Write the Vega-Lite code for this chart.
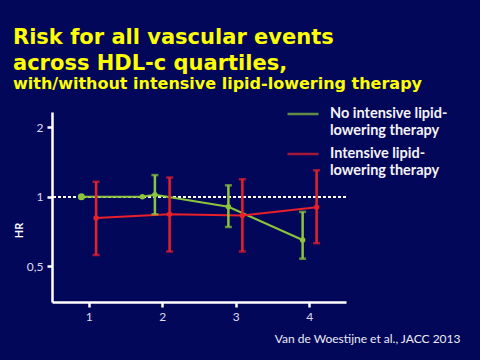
{
  "$schema": "https://vega.github.io/schema/vega-lite/v6.json",
  "autosize": "none",
  "width": 294,
  "height": 190,
  "padding": {"left": 52, "top": 112, "right": 134, "bottom": 58},
  "background": "#03075a",
  "title": {
    "text": ["Risk for all vascular events", "across HDL-c quartiles,"],
    "subtitle": "with/without intensive lipid-lowering therapy",
    "anchor": "start",
    "frame": "group",
    "dx": -39,
    "offset": 5,
    "font": "DejaVu Sans",
    "fontSize": 21,
    "fontWeight": "bold",
    "color": "#ffff00",
    "lineHeight": 26,
    "subtitleFont": "DejaVu Sans",
    "subtitleFontSize": 16,
    "subtitleFontWeight": "bold",
    "subtitleColor": "#ffff00",
    "subtitlePadding": 2
  },
  "config": {
    "view": {"stroke": null},
    "font": "Lato"
  },
  "data": {
    "values": [
      {"group": "No intensive lipid-|lowering therapy", "x": 0.9, "hr": 1.0, "ref": true},
      {"group": "No intensive lipid-|lowering therapy", "x": 1.73, "hr": 1.0},
      {"group": "No intensive lipid-|lowering therapy", "x": 1.9, "hr": 1.02, "lo": 0.84, "hi": 1.24},
      {"group": "No intensive lipid-|lowering therapy", "x": 2.9, "hr": 0.905, "lo": 0.74, "hi": 1.12},
      {"group": "No intensive lipid-|lowering therapy", "x": 3.91, "hr": 0.65, "lo": 0.54, "hi": 0.86},
      {"group": "Intensive lipid-|lowering therapy", "x": 1.1, "hr": 0.81, "lo": 0.56, "hi": 1.16},
      {"group": "Intensive lipid-|lowering therapy", "x": 2.1, "hr": 0.84, "lo": 0.58, "hi": 1.21},
      {"group": "Intensive lipid-|lowering therapy", "x": 3.09, "hr": 0.83, "lo": 0.58, "hi": 1.19},
      {"group": "Intensive lipid-|lowering therapy", "x": 4.1, "hr": 0.9, "lo": 0.63, "hi": 1.3}
    ]
  },
  "encoding": {
    "x": {
      "field": "x", "type": "quantitative",
      "scale": {"domain": [0.5, 4.5], "nice": false, "zero": false},
      "axis": {
        "values": [1, 2, 3, 4],
        "format": "d",
        "grid": false,
        "domainColor": "white", "domainWidth": 2.5,
        "tickColor": "white", "tickWidth": 2.5, "tickSize": 5,
        "labelColor": "#dcdcec", "labelFontSize": 12, "labelPadding": 4,
        "title": "Van de Woestijne et al., JACC 2013",
        "titleColor": "#ececf4", "titleFontSize": 12, "titleFontWeight": "normal",
        "titleAnchor": "end", "titleAlign": "right", "titleBaseline": "middle",
        "titleX": 408, "titleY": 36
      }
    },
    "color": {
      "field": "group", "type": "nominal",
      "scale": {"domain": ["No intensive lipid-|lowering therapy", "Intensive lipid-|lowering therapy"], "range": ["#8cc43c", "#e8202a"]},
      "legend": {
        "orient": "none", "legendX": 234, "legendY": -15,
        "title": null,
        "symbolType": "stroke", "symbolSize": 961, "symbolStrokeWidth": 2.5,
        "labelExpr": "split(datum.label, '|')",
        "labelColor": "#f4f4f8", "labelFontSize": 14.5, "labelFontWeight": "bold",
        "labelOffset": 10, "labelLimit": 300,
        "rowPadding": 0
      }
    }
  },
  "layer": [
    {
      "mark": {"type": "rule", "color": "white", "strokeDash": [3, 2], "strokeWidth": 1.5},
      "encoding": {"y": {"datum": 1}, "x": null, "color": null}
    },
    {
      "mark": {"type": "line", "strokeWidth": 2},
      "encoding": {
        "y": {
          "field": "hr", "type": "quantitative",
          "scale": {"type": "log", "domain": [0.351, 2.322], "nice": false},
          "axis": {
            "values": [0.5, 1, 2],
            "labelExpr": "datum.value == 0.5 ? '0,5' : datum.label",
            "grid": false,
            "domainColor": "white", "domainWidth": 2.5,
            "tickColor": "white", "tickWidth": 2.5, "tickSize": 5,
            "labelColor": "#dcdcec", "labelFontSize": 12, "labelPadding": 4,
            "title": "HR", "titleColor": "white", "titleFontSize": 11, "titleFontWeight": "bold",
            "titleAngle": -90, "titleX": -33, "titleY": 118, "titleAlign": "center", "titleBaseline": "middle"
          }
        }
      }
    },
    {
      "mark": {"type": "rule", "strokeWidth": 2.5},
      "encoding": {"y": {"field": "lo", "type": "quantitative"}, "y2": {"field": "hi"}}
    },
    {
      "mark": {"type": "tick", "orient": "horizontal", "size": 7, "thickness": 2.5},
      "encoding": {"y": {"field": "lo", "type": "quantitative"}}
    },
    {
      "mark": {"type": "tick", "orient": "horizontal", "size": 7, "thickness": 2.5},
      "encoding": {"y": {"field": "hi", "type": "quantitative"}}
    },
    {
      "mark": {"type": "point", "filled": true, "opacity": 1},
      "encoding": {
        "y": {"field": "hr", "type": "quantitative"},
        "size": {"condition": {"test": "datum.ref", "value": 50}, "value": 30}
      }
    }
  ]
}
